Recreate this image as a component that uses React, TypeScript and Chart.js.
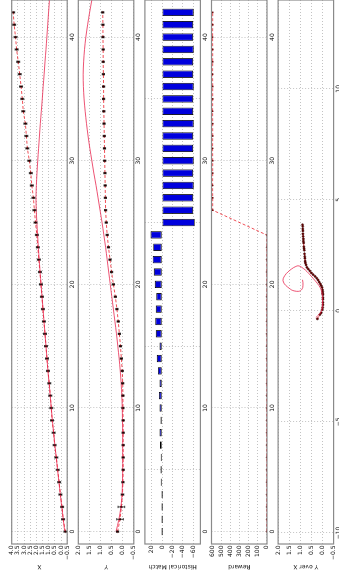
import { useEffect, useRef } from 'react';
import { Chart, registerables } from 'chart.js';

Chart.register(...registerables);

// ---------- data ----------
const STEPS = [0, 1, 2, 3, 4, 5, 6, 7, 8, 9, 10, 11, 12, 13, 14, 15, 16, 17, 18, 19, 20, 21, 22, 23, 24, 25, 26, 27, 28, 29, 30, 31, 32, 33, 34, 35, 36, 37, 38, 39, 40, 41, 42];
const MODEL_STEPS = [0, 1, 2, 3, 4, 5, 6, 7, 8, 9, 10, 11, 12, 13, 14, 15, 16, 17, 18, 19, 20, 21, 22, 23, 24, 25, 26, 27, 28, 29, 30, 31, 32, 33, 34, 35, 36, 37, 38, 39, 40, 41, 42, 43, 44, 45, 46, 47, 48, 49, 50, 51, 52];

const DATA_X = [-0.36, -0.17, -0.09, 0.05, 0.15, 0.27, 0.38, 0.52, 0.6, 0.73, 0.79, 0.87, 0.95, 1.06, 1.14, 1.22, 1.3, 1.39, 1.47, 1.55, 1.63, 1.71, 1.8, 1.88, 1.96, 2.07, 2.16, 2.24, 2.37, 2.45, 2.57, 2.73, 2.81, 2.89, 3.06, 3.14, 3.24, 3.35, 3.47, 3.6, 3.69, 3.8, 3.88];
const ERR_X = [0.12, 0.12, 0.12, 0.12, 0.12, 0.12, 0.12, 0.12, 0.12, 0.12, 0.12, 0.12, 0.12, 0.12, 0.12, 0.12, 0.12, 0.12, 0.12, 0.12, 0.12, 0.12, 0.12, 0.12, 0.12, 0.12, 0.12, 0.12, 0.12, 0.12, 0.12, 0.12, 0.12, 0.12, 0.12, 0.12, 0.12, 0.12, 0.12, 0.12, 0.12, 0.12, 0.12];
const DATA_Y = [0.23, 0.12, 0.06, 0.01, -0.01, -0.02, -0.02, -0.02, -0.02, -0.02, -0.01, -0.01, 0.0, 0.02, 0.06, 0.1, 0.15, 0.2, 0.26, 0.33, 0.42, 0.5, 0.57, 0.64, 0.7, 0.74, 0.77, 0.78, 0.79, 0.8, 0.81, 0.82, 0.83, 0.84, 0.85, 0.86, 0.86, 0.87, 0.88, 0.88, 0.89, 0.89, 0.9];
const ERR_Y = [0.05, 0.15, 0.15, 0.06, 0.05, 0.05, 0.05, 0.05, 0.05, 0.05, 0.05, 0.05, 0.05, 0.05, 0.05, 0.05, 0.05, 0.05, 0.05, 0.05, 0.05, 0.05, 0.05, 0.05, 0.05, 0.05, 0.05, 0.05, 0.05, 0.05, 0.05, 0.05, 0.05, 0.05, 0.05, 0.05, 0.05, 0.05, 0.05, 0.05, 0.05, 0.05, 0.05];
const MODEL_X = [-0.3, -0.18, -0.06, 0.06, 0.17, 0.28, 0.39, 0.5, 0.6, 0.7, 0.79, 0.88, 0.97, 1.06, 1.14, 1.22, 1.3, 1.38, 1.46, 1.54, 1.62, 1.7, 1.77, 1.84, 1.9, 1.96, 2.01, 2.03, 2.0, 1.95, 1.89, 1.82, 1.75, 1.68, 1.6, 1.52, 1.45, 1.37, 1.3, 1.22, 1.15, 1.08, 1.01, 0.94, 0.9, 0.88, 0.88, 0.91, 0.97, 1.05, 1.15, 1.27, 1.4];
const MODEL_Y = [0.3, 0.17, 0.08, 0.03, 0.01, 0.0, 0.0, 0.0, 0.0, 0.01, 0.02, 0.04, 0.07, 0.11, 0.16, 0.22, 0.28, 0.35, 0.42, 0.49, 0.56, 0.63, 0.7, 0.77, 0.85, 0.93, 1.02, 1.11, 1.2, 1.3, 1.39, 1.48, 1.56, 1.63, 1.69, 1.74, 1.77, 1.78, 1.76, 1.72, 1.66, 1.58, 1.49, 1.39, 1.28, 1.17, 1.07, 0.99, 0.93, 0.89, 0.88, 0.88, 0.9];
const HIST_MATCH = [0, 0, 0, 0, 2, 3, 1.5, 4, 5, 3, 5, 6, 5, 8, 10, 5, 12, 13, 12, 11, 14, 16, 18, 17, 22, -63, -60, -60, -61, -60, -61, -60, -60, -61, -60, -60, -61, -60, -60, -61, -60, -60, -61];
const REWARD = [0, 0, 0, 0, 0, 0, 0, 0, 0, 0, 0, 0, 0, 0, 0, 0, 0, 0, 0, 0, 0, 0, 0, 0, 0, null, 592, 592, 593, 592, 592, 593, 592, 592, 593, 592, 592, 593, 592, 592, 593, 592, 592];

const STEP_TICKS = [0, 10, 20, 30, 40];
const X_TICKS = [-0.5, 0.0, 0.5, 1.0, 1.5, 2.0, 2.5, 3.0, 3.5, 4.0];
const Y_TICKS = [-0.5, 0.0, 0.5, 1.0, 1.5, 2.0];
const HIST_TICKS = [-60, -40, -20, 0, 20];
const REWARD_TICKS = [0, 100, 200, 300, 400, 500, 600];
const PHASE_X_TICKS = [-10, -5, 0, 5, 10];

const LABELS = ['X', 'Y', 'Historical Match', 'Reward', 'Y over X'];

// ---------- layout (unrotated figure coordinates) ----------
const FIG_W = 600;
const FIG_H = 339;
const AX_LEFT = 41;
const AX_RIGHT = 585;
const AX_TOPS = [11.7, 78.3, 144.9, 211.5, 278.1];
const AX_H = 55.5;
const FONT_FAMILY = "'DejaVu Sans', sans-serif";

const minus = (s: string) => s.replace('-', '\u2212');
const fmt1 = (v: number) => minus(v.toFixed(1));
const fmt0 = (v: number) => minus(String(Math.round(v)));

const framePlugin = {
  id: 'frame',
  afterDraw(chart: any) {
    const { ctx, chartArea: a } = chart;
    ctx.save();
    ctx.strokeStyle = '#8a8a8a';
    ctx.lineWidth = 1.2;
    ctx.strokeRect(a.left, a.top, a.right - a.left, a.bottom - a.top);
    ctx.restore();
  },
};

function errorBars(steps: number[], values: number[], errs: number[]) {
  return {
    id: 'errorBars',
    afterDatasetsDraw(chart: any) {
      const { ctx, chartArea: a } = chart;
      const xs = chart.scales.x;
      const ys = chart.scales.y;
      ctx.save();
      ctx.beginPath();
      ctx.rect(a.left, a.top, a.right - a.left, a.bottom - a.top);
      ctx.clip();
      ctx.strokeStyle = '#000';
      ctx.lineWidth = 0.7;
      steps.forEach((t, i) => {
        const px = xs.getPixelForValue(t);
        const lo = ys.getPixelForValue(values[i] - errs[i]);
        const hi = ys.getPixelForValue(values[i] + errs[i]);
        ctx.beginPath();
        ctx.moveTo(px, lo);
        ctx.lineTo(px, hi);
        ctx.moveTo(px - 1.2, lo);
        ctx.lineTo(px + 1.2, lo);
        ctx.moveTo(px - 1.2, hi);
        ctx.lineTo(px + 1.2, hi);
        ctx.stroke();
      });
      ctx.restore();
    },
  };
}

function xAxis(idx: number, min: number, max: number, ticks: number[], fmt: (v: number) => string) {
  const bottom = AX_TOPS[idx] + AX_H;
  return {
    type: 'linear',
    min,
    max,
    offset: false,
    afterBuildTicks: (s: any) => {
      s.ticks = ticks.map((v) => ({ value: v }));
    },
    afterFit: (s: any) => {
      s.height = FIG_H - bottom;
    },
    grid: { color: '#b4b4b4', lineWidth: 0.8, drawTicks: false },
    border: { display: false, dash: [1, 2] },
    ticks: {
      padding: 1.5,
      maxRotation: 0,
      autoSkip: false,
      color: '#111',
      font: { family: FONT_FAMILY, size: 6 },
      callback: (v: any) => fmt(Number(v)),
    },
  };
}

function yAxis(idx: number, min: number, max: number, ticks: number[], fmt: (v: number) => string) {
  return {
    type: 'linear',
    min,
    max,
    afterBuildTicks: (s: any) => {
      s.ticks = ticks.map((v) => ({ value: v }));
    },
    afterFit: (s: any) => {
      s.width = AX_LEFT;
    },
    grid: { color: '#b4b4b4', lineWidth: 0.8, drawTicks: false },
    border: { display: false, dash: [1, 2] },
    ticks: {
      padding: 1.5,
      autoSkip: false,
      color: '#111',
      font: { family: FONT_FAMILY, size: 6 },
      callback: (v: any) => fmt(Number(v)),
    },
    title: {
      display: true,
      text: LABELS[idx],
      color: '#111',
      font: { family: FONT_FAMILY, size: 6 },
      padding: { top: 15, bottom: 0 },
    },
  };
}

function baseOptions(idx: number, x: any, y: any) {
  return {
    responsive: false,
    animation: false,
    devicePixelRatio: 1,
    layout: { padding: { top: AX_TOPS[idx], right: FIG_W - AX_RIGHT, bottom: 0, left: 0 } },
    plugins: { legend: { display: false }, tooltip: { enabled: false }, title: { display: false } },
    scales: { x, y },
  };
}

const pts = (xs: number[], ys: (number | null)[]) => xs.map((x, i) => ({ x, y: ys[i] }));

const MODEL_STYLE = {
  borderColor: 'rgba(232, 40, 80, 0.8)',
  borderWidth: 1,
  pointRadius: 0,
  tension: 0.3,
  fill: false,
};
const DATA_STYLE = {
  borderColor: 'rgba(235, 25, 35, 0.85)',
  borderWidth: 0.9,
  borderDash: [3, 2],
  pointRadius: 1.0,
  pointBackgroundColor: '#6a0000',
  pointBorderColor: '#2a0000',
  pointBorderWidth: 0.4,
  tension: 0,
  fill: false,
};

function buildConfigs(): any[] {
  const cfgX = {
    type: 'line',
    data: {
      datasets: [
        { ...MODEL_STYLE, data: pts(MODEL_STEPS, MODEL_X) },
        { ...DATA_STYLE, data: pts(STEPS, DATA_X) },
      ],
    },
    options: baseOptions(0, xAxis(0, -1, 43, STEP_TICKS, fmt0), yAxis(0, -0.5, 4.0, X_TICKS, fmt1)),
    plugins: [framePlugin, errorBars(STEPS, DATA_X, ERR_X)],
  };
  const cfgY = {
    type: 'line',
    data: {
      datasets: [
        { ...MODEL_STYLE, data: pts(MODEL_STEPS, MODEL_Y) },
        { ...DATA_STYLE, data: pts(STEPS, DATA_Y) },
      ],
    },
    options: baseOptions(1, xAxis(1, -1, 43, STEP_TICKS, fmt0), yAxis(1, -0.5, 2.0, Y_TICKS, fmt1)),
    plugins: [framePlugin, errorBars(STEPS, DATA_Y, ERR_Y)],
  };
  const cfgHist = {
    type: 'bar',
    data: {
      datasets: [
        {
          data: pts(STEPS, HIST_MATCH),
          backgroundColor: '#0000dd',
          borderColor: '#000',
          borderWidth: 0.9,
          borderSkipped: false,
          minBarLength: 1.2,
          barPercentage: 0.6,
          categoryPercentage: 1.0,
        },
      ],
    },
    options: baseOptions(2, xAxis(2, -1, 43, STEP_TICKS, fmt0), yAxis(2, -73.8, 33, HIST_TICKS, fmt0)),
    plugins: [framePlugin],
  };
  const cfgReward = {
    type: 'line',
    data: {
      datasets: [{ ...DATA_STYLE, pointRadius: 0.9, pointBorderWidth: 0, spanGaps: true, data: pts(STEPS, REWARD) }],
    },
    options: baseOptions(3, xAxis(3, -1, 43, STEP_TICKS, fmt0), yAxis(3, -5, 605, REWARD_TICKS, fmt0)),
    plugins: [framePlugin],
  };
  const cfgPhase = {
    type: 'line',
    data: {
      datasets: [
        { ...MODEL_STYLE, data: pts(MODEL_X, MODEL_Y) },
        { ...DATA_STYLE, pointRadius: 1.1, data: pts(DATA_X, DATA_Y) },
      ],
    },
    options: baseOptions(4, xAxis(4, -10.5, 14.0, PHASE_X_TICKS, fmt0), yAxis(4, -0.5, 2.0, Y_TICKS, fmt1)),
    plugins: [framePlugin],
  };
  return [cfgX, cfgY, cfgHist, cfgReward, cfgPhase];
}

export default function App() {
  const refs = [useRef<HTMLCanvasElement>(null), useRef<HTMLCanvasElement>(null), useRef<HTMLCanvasElement>(null), useRef<HTMLCanvasElement>(null), useRef<HTMLCanvasElement>(null)];

  useEffect(() => {
    const cfgs = buildConfigs();
    const charts = cfgs.map((cfg, i) => new Chart(refs[i].current as HTMLCanvasElement, cfg));
    return () => charts.forEach((c) => c.destroy());
  }, []);

  return (
    <div style={{ position: 'fixed', left: 0, top: 0, width: 339, height: 585, overflow: 'hidden', background: '#fff' }}>
      <div
        style={{
          position: 'absolute',
          left: 0,
          top: 0,
          width: FIG_W,
          height: FIG_H,
          transformOrigin: '0 0',
          transform: 'translate(0px, 585px) rotate(-90deg)',
        }}
      >
        {refs.map((r, i) => (
          <canvas
            key={i}
            ref={r}
            width={FIG_W}
            height={FIG_H}
            style={{ position: 'absolute', left: 0, top: 0, width: FIG_W, height: FIG_H }}
          />
        ))}
      </div>
    </div>
  );
}
